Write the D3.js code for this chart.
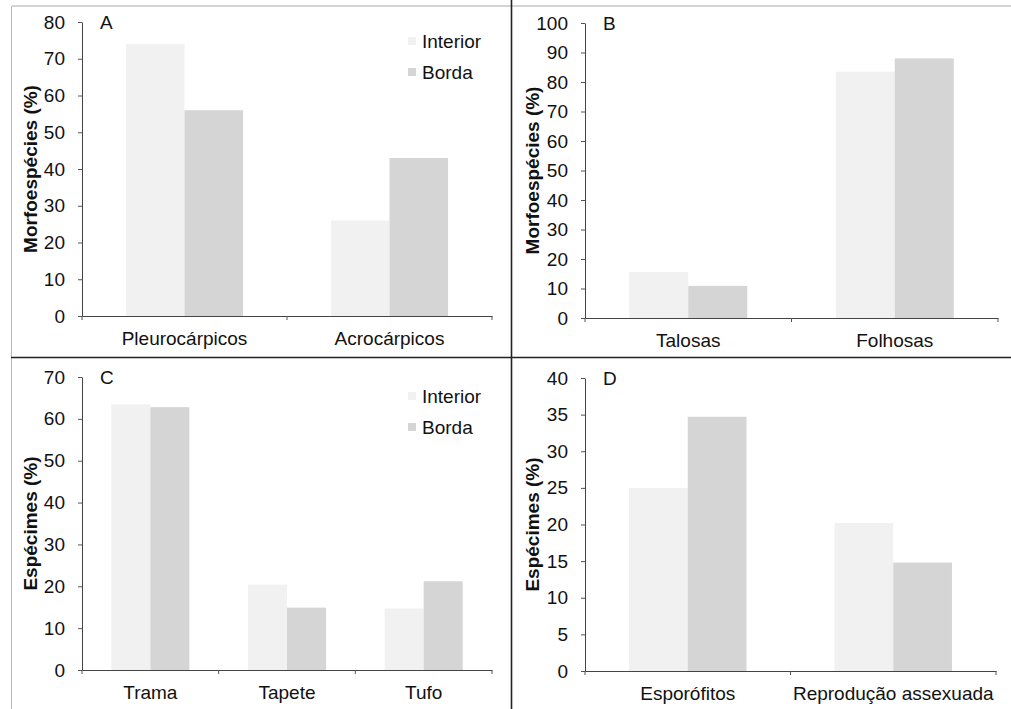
<!DOCTYPE html>
<html>
<head>
<meta charset="utf-8">
<script src="https://d3js.org/d3.v7.min.js"></script>
<style>
  body { margin: 0; background: #fff; }
  svg { display: block; font-family: "Liberation Sans", Arial, sans-serif; }
  .tick text { fill: #111; }
</style>
</head>
<body>
<svg id="chart" width="1011" height="709"></svg>
<script>
// data
const series = ['Interior', 'Borda'];

const catsA = ['Pleurocárpicos', 'Acrocárpicos'];
const interiorA = [74, 26];
const bordaA = [56, 43];
const ticksA = [0, 10, 20, 30, 40, 50, 60, 70, 80];

const catsB = ['Talosas', 'Folhosas'];
const interiorB = [15.6, 83.5];
const bordaB = [10.9, 88];
const ticksB = [0, 10, 20, 30, 40, 50, 60, 70, 80, 90, 100];

const catsC = ['Trama', 'Tapete', 'Tufo'];
const interiorC = [63.5, 20.4, 14.7];
const bordaC = [62.8, 14.9, 21.2];
const ticksC = [0, 10, 20, 30, 40, 50, 60, 70];

const catsD = ['Esporófitos', 'Reprodução assexuada'];
const interiorD = [25, 20.2];
const bordaD = [34.7, 14.8];
const ticksD = [0, 5, 10, 15, 20, 25, 30, 35, 40];

const colors = { Interior: '#f1f1f1', Borda: '#d5d5d5' };

const svg = d3.select('#chart');

// panel frame lines
svg.append('line').attr('x1', 12).attr('x2', 1011).attr('y1', 6).attr('y2', 6)
  .attr('stroke', '#aaa').attr('stroke-width', 1);
svg.append('line').attr('x1', 11.5).attr('x2', 11.5).attr('y1', 6).attr('y2', 709)
  .attr('stroke', '#bbb').attr('stroke-width', 1);
svg.append('line').attr('x1', 511.5).attr('x2', 511.5).attr('y1', 0).attr('y2', 709)
  .attr('stroke', '#222').attr('stroke-width', 1.6);
svg.append('line').attr('x1', 11).attr('x2', 1011).attr('y1', 357.5).attr('y2', 357.5)
  .attr('stroke', '#222').attr('stroke-width', 1.6);

const panels = [
  { letter: 'A', cats: catsA, interior: interiorA, borda: bordaA, ticks: ticksA,
    label: 'Morfoespécies (%)', x0: 82, x1: 492, top: 22, bottom: 316, legend: true, labelX: 30 },
  { letter: 'B', cats: catsB, interior: interiorB, borda: bordaB, ticks: ticksB,
    label: 'Morfoespécies (%)', x0: 585, x1: 998, top: 23, bottom: 318, legend: false, labelX: 532 },
  { letter: 'C', cats: catsC, interior: interiorC, borda: bordaC, ticks: ticksC,
    label: 'Espécimes (%)', x0: 82, x1: 492, top: 377, bottom: 670, legend: true, labelX: 30 },
  { letter: 'D', cats: catsD, interior: interiorD, borda: bordaD, ticks: ticksD,
    label: 'Espécimes (%)', x0: 585, x1: 996, top: 378, bottom: 671, legend: false, labelX: 532 }
];

panels.forEach(p => {
  const g = svg.append('g');
  const y = d3.scaleLinear().domain([0, d3.max(p.ticks)]).range([p.bottom, p.top]);
  const x = d3.scaleBand().domain(p.cats).range([p.x0, p.x1]).padding(0);
  // Excel-like gap width of 150%
  const xs = d3.scaleBand().domain(series).range([0, x.bandwidth()]).paddingInner(0).paddingOuter(0.75);

  const rows = p.cats.map((c, i) => ({ cat: c, Interior: p.interior[i], Borda: p.borda[i] }));

  // bars
  const groups = g.selectAll('g.cat')
    .data(rows)
    .enter()
    .append('g')
    .attr('transform', d => `translate(${x(d.cat)},0)`);

  groups.selectAll('rect')
    .data(d => series.map(s => ({ s: s, v: d[s] })))
    .enter()
    .append('rect')
    .attr('x', d => xs(d.s))
    .attr('width', xs.bandwidth())
    .attr('y', d => y(d.v))
    .attr('height', d => y(0) - y(d.v))
    .attr('fill', d => colors[d.s]);

  // y axis
  const yAxis = g.append('g')
    .attr('transform', `translate(${p.x0},0)`)
    .call(d3.axisLeft(y).tickValues(p.ticks).tickSize(4).tickSizeOuter(0).tickPadding(13));
  yAxis.select('.domain').attr('stroke', '#444');
  yAxis.selectAll('.tick line').attr('stroke', '#555');
  yAxis.selectAll('.tick text').attr('font-size', 19);

  // x axis
  const xAxis = g.append('g')
    .attr('transform', `translate(0,${p.bottom})`)
    .call(d3.axisBottom(x).tickSize(0).tickSizeOuter(0).tickPadding(16));
  xAxis.select('.domain').attr('stroke', '#444');
  xAxis.selectAll('.tick text').attr('font-size', 19);

  const bounds = p.cats.map(c => x(c)).concat([x.range()[1]]);
  g.selectAll('line.bound')
    .data(bounds)
    .enter()
    .append('line')
    .attr('x1', d => d).attr('x2', d => d)
    .attr('y1', p.bottom).attr('y2', p.bottom + 4)
    .attr('stroke', '#555');

  // y label
  g.append('text')
    .attr('transform', `translate(${p.labelX},${(p.top + p.bottom) / 2}) rotate(-90)`)
    .attr('text-anchor', 'middle')
    .attr('dominant-baseline', 'central')
    .attr('font-size', 19)
    .attr('font-weight', 'bold')
    .attr('fill', '#111')
    .text(p.label);

  // panel letter
  g.append('text')
    .attr('x', p.x0 + 18)
    .attr('y', p.top + 7)
    .attr('font-size', 19)
    .attr('fill', '#111')
    .text(p.letter);

  // legend
  if (p.legend) {
    const lg = g.append('g').attr('transform', `translate(408,${p.top + 19})`);
    const items = lg.selectAll('g')
      .data(series)
      .enter()
      .append('g')
      .attr('transform', (d, i) => `translate(0,${i * 31})`);
    items.append('rect')
      .attr('x', 0).attr('y', -4).attr('width', 8).attr('height', 8)
      .attr('fill', d => colors[d]);
    items.append('text')
      .attr('x', 14)
      .attr('dominant-baseline', 'central')
      .attr('font-size', 19)
      .attr('fill', '#111')
      .text(d => d);
  }
});
</script>
</body>
</html>
